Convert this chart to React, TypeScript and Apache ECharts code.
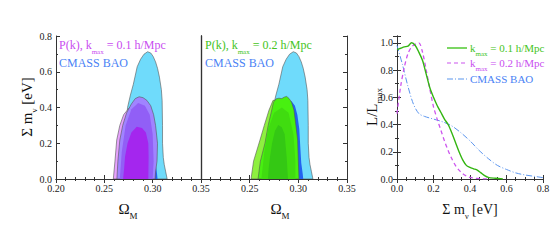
import React, { useEffect, useRef } from "react";
import * as echarts from "echarts";

// ---------- Data ----------
// Contours: [Omega_M, Sum m_nu]
const BAO_2SIGMA = [
  [0.271, 0], [0.271, 0.2], [0.274, 0.40], [0.277, 0.47], [0.280, 0.53], [0.2840, 0.628],
  [0.2875, 0.67], [0.291, 0.698], [0.2948, 0.712], [0.298, 0.705], [0.3005, 0.686], [0.303, 0.655],
  [0.305, 0.62], [0.307, 0.57], [0.309, 0.50], [0.3098, 0.44], [0.3102, 0.30], [0.3102, 0.2],
  [0.311, 0.12], [0.312, 0.08], [0.3135, 0.04], [0.315, 0],
];
const BAO_1SIGMA = [
  [0.276, 0], [0.276, 0.2], [0.280, 0.36], [0.285, 0.42], [0.289, 0.44], [0.293, 0.435],
  [0.2965, 0.41], [0.299, 0.36], [0.301, 0.28], [0.302, 0.18], [0.303, 0.09], [0.3045, 0.03], [0.305, 0],
];
const PK01_2SIGMA = [
  [0.2593, 0], [0.261, 0.1], [0.2628, 0.218], [0.266, 0.30], [0.270, 0.36], [0.276, 0.40],
  [0.284, 0.40], [0.290, 0.35], [0.295, 0.2], [0.297, 0],
];
const PK01_BAO_2SIGMA = [
  [0.263, 0], [0.264, 0.1], [0.266, 0.218], [0.269, 0.30], [0.273, 0.37], [0.278, 0.42],
  [0.282, 0.45], [0.286, 0.46], [0.290, 0.455], [0.294, 0.44], [0.298, 0.41], [0.301, 0.36],
  [0.303, 0.30], [0.305, 0.2], [0.3045, 0.1], [0.303, 0.04], [0.3025, 0],
];
const PK01_MID = [
  [0.266, 0], [0.268, 0.15], [0.272, 0.3], [0.278, 0.39], [0.285, 0.425], [0.292, 0.41],
  [0.297, 0.36], [0.300, 0.25], [0.301, 0.1], [0.300, 0],
];
const PK01_1SIGMA = [
  [0.2694, 0], [0.2705, 0.06], [0.2714, 0.125], [0.274, 0.2], [0.278, 0.26], [0.2835, 0.293],
  [0.289, 0.285], [0.293, 0.26], [0.2955, 0.2], [0.2958, 0.125], [0.2955, 0],
];
const PK02_2SIGMA = [
  [0.2514, 0], [0.254, 0.1], [0.2606, 0.218], [0.265, 0.30], [0.2699, 0.386], [0.274, 0.44],
  [0.280, 0.44], [0.290, 0.40], [0.295, 0.2], [0.297, 0],
];
const PK02_BAO_2SIGMA = [
  [0.2586, 0], [0.261, 0.1], [0.2657, 0.2], [0.269, 0.3], [0.272, 0.37], [0.2745, 0.43],
  [0.277, 0.448], [0.280, 0.452], [0.283, 0.450], [0.2855, 0.458], [0.288, 0.462], [0.2905, 0.45],
  [0.293, 0.43], [0.2955, 0.386], [0.2975, 0.3], [0.2993, 0.218], [0.300, 0.1], [0.3007, 0],
];
const PK02_MID = [
  [0.262, 0], [0.265, 0.15], [0.269, 0.28], [0.275, 0.37], [0.283, 0.40], [0.290, 0.37],
  [0.295, 0.25], [0.297, 0.1], [0.297, 0],
];
const PK02_1SIGMA = [
  [0.2688, 0], [0.2695, 0.06], [0.2709, 0.125], [0.273, 0.2], [0.276, 0.27], [0.2794, 0.302],
  [0.283, 0.29], [0.286, 0.25], [0.288, 0.125], [0.2894, 0],
];

// 1D likelihoods: [Sum m_nu, L/Lmax]
const L_K01 = [
  [0, 0.95], [0.02, 0.96], [0.04, 0.97], [0.06, 0.975], [0.08, 1.0], [0.1, 0.98], [0.12, 0.93],
  [0.14, 0.87], [0.16, 0.77], [0.18, 0.67], [0.2, 0.6], [0.22, 0.54], [0.24, 0.49], [0.26, 0.44],
  [0.28, 0.4], [0.3, 0.34], [0.32, 0.27], [0.34, 0.2], [0.36, 0.14], [0.38, 0.1], [0.4, 0.085],
  [0.42, 0.075], [0.44, 0.065], [0.46, 0.045], [0.48, 0.025], [0.5, 0.012], [0.54, 0.005], [0.58, 0],
];
const L_K02 = [
  [0, 0.48], [0.02, 0.68], [0.04, 0.82], [0.06, 0.92], [0.08, 0.97], [0.1, 0.99], [0.12, 1.0],
  [0.14, 0.93], [0.16, 0.8], [0.18, 0.66], [0.2, 0.53], [0.22, 0.44], [0.24, 0.36], [0.26, 0.28],
  [0.28, 0.21], [0.3, 0.15], [0.32, 0.1], [0.34, 0.065], [0.36, 0.04], [0.38, 0.022], [0.4, 0.012],
  [0.44, 0.004], [0.5, 0],
];
const L_BAO = [
  [0, 0.98], [0.03, 0.84], [0.06, 0.68], [0.09, 0.55], [0.12, 0.48], [0.15, 0.46], [0.2, 0.44],
  [0.25, 0.42], [0.3, 0.39], [0.35, 0.34], [0.4, 0.28], [0.45, 0.21], [0.5, 0.15], [0.55, 0.1],
  [0.6, 0.07], [0.65, 0.045], [0.7, 0.03], [0.75, 0.02], [0.8, 0.01],
];

const LEGEND_PANEL1 = ["P(k), k", "max", " = 0.1 h/Mpc", "CMASS BAO"];
const LEGEND_PANEL2 = ["P(k), k", "max", " = 0.2 h/Mpc", "CMASS BAO"];
const LEGEND_PANEL3 = [
  ["k", "max", " = 0.1 h/Mpc"],
  ["k", "max", " = 0.2 h/Mpc"],
  ["CMASS BAO", "", ""],
];

const SERIF = "Liberation Serif";
const AXIS_COLOR = "#333";

const C_CYAN = "#6fdbfb";
const C_BLUE = "#2262f0";
const C_PINK = "#e6a2fd";
const C_PURPLE = "#a084ff";
const C_PURPLE_MID = "#915ff6";
const C_PURPLE_IN = "#a426ee";
const C_LGREEN = "#8ef040";
const C_GREEN = "#48f010";
const C_GREEN_MID = "#40dc10";
const C_GREEN_IN = "#34c814";
const C_MAGENTA_TXT = "#c94df0";
const C_BLUE_TXT = "#4a82f5";
const C_GREEN_TXT = "#44c422";

function contour(pts: number[][], axisIdx: number, fill: string, outline: boolean): any {
  return {
    type: "custom",
    xAxisIndex: axisIdx,
    yAxisIndex: axisIdx,
    clip: true,
    data: pts,
    encode: { x: 0, y: 1 },
    renderItem: (params: any, api: any) => {
      if (params.dataIndex !== 0) return null;
      return {
        type: "polygon",
        shape: { points: pts.map((p) => api.coord(p)) },
        style: {
          fill,
          stroke: outline ? "#555" : null,
          lineWidth: outline ? 0.6 : 0,
        },
      };
    },
  };
}

function richText(main: string, sub: string, rest: string, color: string, size: number) {
  return {
    text: `{a|${main}}{s|${sub}}{a|${rest}}`,
    rich: {
      a: { fontSize: size, fontFamily: SERIF, fill: color, lineHeight: size + 8, verticalAlign: "middle" },
      s: { fontSize: Math.round(size * 0.6), fontFamily: SERIF, fill: color, lineHeight: 8, verticalAlign: "bottom" },
    },
  };
}

export default function App() {
  const ref = useRef<HTMLDivElement>(null);

  useEffect(() => {
    document.body.style.margin = "0";
    const chart = echarts.init(ref.current!, null, { renderer: "svg" });

    const grids = [
      { left: 56, top: 36, width: 145, height: 143 },
      { left: 201, top: 36, width: 146, height: 143 },
      { left: 397, top: 36, width: 146, height: 143 },
    ];

    const baseLabel = { fontFamily: SERIF, fontSize: 10, color: "#222", margin: 4 };
    const axisLine = { show: true, lineStyle: { color: AXIS_COLOR, width: 1 } };
    const tick = { show: true, inside: true, length: 4, lineStyle: { color: AXIS_COLOR } };
    const minor = (n: number) => ({ show: true, splitNumber: n, length: 2, lineStyle: { color: AXIS_COLOR } });

    const omegaAxis = (gi: number, hideMin: boolean) => ({
      type: "value",
      gridIndex: gi,
      min: 0.2,
      max: 0.35,
      interval: 0.05,
      position: "bottom",
      axisLine,
      axisTick: tick,
      minorTick: minor(5),
      splitLine: { show: false },
      axisLabel: {
        ...baseLabel,
        showMinLabel: !hideMin,
        showMaxLabel: true,
        formatter: (v: number) => v.toFixed(2),
      },
    });

    const topAxis = (gi: number, min: number, max: number, interval: number, ms: number) => ({
      type: "value",
      gridIndex: gi,
      min,
      max,
      interval,
      position: "top",
      axisLine,
      axisTick: tick,
      minorTick: minor(ms),
      splitLine: { show: false },
      axisLabel: { show: false },
    });

    const rightAxis = (gi: number, min: number, max: number, ticks: boolean) => ({
      type: "value",
      gridIndex: gi,
      min,
      max,
      interval: 0.2,
      position: "right",
      axisLine,
      axisTick: { ...tick, show: ticks },
      minorTick: { ...minor(2), show: ticks },
      splitLine: { show: false },
      axisLabel: { show: false },
    });

    const xAxis: any[] = [
      omegaAxis(0, false),
      omegaAxis(1, true),
      {
        type: "value",
        gridIndex: 2,
        min: 0,
        max: 0.8,
        interval: 0.2,
        position: "bottom",
        axisLine,
        axisTick: tick,
        minorTick: minor(4),
        splitLine: { show: false },
        axisLabel: { ...baseLabel, formatter: (v: number) => v.toFixed(1) },
      },
      topAxis(0, 0.2, 0.35, 0.05, 5),
      topAxis(1, 0.2, 0.35, 0.05, 5),
      topAxis(2, 0, 0.8, 0.2, 4),
    ];

    const yAxis: any[] = [
      {
        type: "value",
        gridIndex: 0,
        min: 0,
        max: 0.8,
        interval: 0.2,
        position: "left",
        axisLine,
        axisTick: tick,
        minorTick: minor(2),
        splitLine: { show: false },
        axisLabel: { ...baseLabel, formatter: (v: number) => v.toFixed(1) },
      },
      {
        type: "value",
        gridIndex: 1,
        min: 0,
        max: 0.8,
        interval: 0.2,
        position: "left",
        axisLine: { show: true, lineStyle: { color: "#111", width: 1.3 } },
        axisTick: { show: false },
        splitLine: { show: false },
        axisLabel: { show: false },
      },
      {
        type: "value",
        gridIndex: 2,
        min: 0,
        max: 1.05,
        interval: 0.2,
        position: "left",
        axisLine,
        axisTick: tick,
        minorTick: minor(2),
        splitLine: { show: false },
        axisLabel: {
          ...baseLabel,
          showMaxLabel: false,
          formatter: (v: number) => (v > 1.001 ? "" : v.toFixed(1)),
        },
      },
      rightAxis(0, 0, 0.8, false),
      rightAxis(1, 0, 0.8, true),
      rightAxis(2, 0, 1.05, true),
    ];

    const series: any[] = [
      // Panel 1
      contour(BAO_2SIGMA, 0, C_CYAN, true),
      contour(BAO_1SIGMA, 0, C_BLUE, false),
      contour(PK01_2SIGMA, 0, C_PINK, true),
      contour(PK01_BAO_2SIGMA, 0, C_PURPLE, true),
      contour(PK01_MID, 0, C_PURPLE_MID, false),
      contour(PK01_1SIGMA, 0, C_PURPLE_IN, false),
      // Panel 2
      contour(BAO_2SIGMA, 1, C_CYAN, true),
      contour(BAO_1SIGMA, 1, C_BLUE, false),
      contour(PK02_2SIGMA, 1, C_LGREEN, true),
      contour(PK02_BAO_2SIGMA, 1, C_GREEN, true),
      contour(PK02_MID, 1, C_GREEN_MID, false),
      contour(PK02_1SIGMA, 1, C_GREEN_IN, false),
      // Panel 3
      {
        type: "line",
        xAxisIndex: 2,
        yAxisIndex: 2,
        data: L_BAO,
        smooth: 0.3,
        showSymbol: false,
        lineStyle: { color: "#5b95ee", width: 1, type: [6, 2, 1, 2] },
      },
      {
        type: "line",
        xAxisIndex: 2,
        yAxisIndex: 2,
        data: L_K02,
        smooth: 0.3,
        showSymbol: false,
        lineStyle: { color: "#cc55ee", width: 1.3, type: [4, 3] },
      },
      {
        type: "line",
        xAxisIndex: 2,
        yAxisIndex: 2,
        data: L_K01,
        smooth: 0.3,
        showSymbol: false,
        lineStyle: { color: "#33b511", width: 1.4 },
      },
    ];

    const legendLineColors = [C_GREEN_TXT, "#cc55ee", "#5b95ee"];
    const legendTxtColors = [C_GREEN_TXT, C_MAGENTA_TXT, C_BLUE_TXT];
    const legendDash: any[] = [null, [4, 3], [6, 2, 1, 2]];
    const legendY = [48, 63, 79];

    const graphic: any[] = [
      // Panel 1 legend
      { type: "text", x: 59, y: 45, style: { ...richText(LEGEND_PANEL1[0], LEGEND_PANEL1[1], LEGEND_PANEL1[2], C_MAGENTA_TXT, 12), verticalAlign: "middle" } },
      { type: "text", x: 59, y: 63, style: { text: LEGEND_PANEL1[3], fill: C_BLUE_TXT, fontFamily: SERIF, fontSize: 12, verticalAlign: "middle" } },
      // Panel 2 legend
      { type: "text", x: 205, y: 45, style: { ...richText(LEGEND_PANEL2[0], LEGEND_PANEL2[1], LEGEND_PANEL2[2], C_GREEN_TXT, 12), verticalAlign: "middle" } },
      { type: "text", x: 205, y: 63, style: { text: LEGEND_PANEL2[3], fill: C_BLUE_TXT, fontFamily: SERIF, fontSize: 12, verticalAlign: "middle" } },
      // Axis titles
      {
        type: "group",
        x: 27,
        y: 107,
        rotation: Math.PI / 2,
        children: [
          { type: "text", x: 0, y: 0, style: { ...richText("Σ m", "ν", " [eV]", "#111", 15), align: "center", verticalAlign: "middle" } },
        ],
      },
      {
        type: "group",
        x: 372,
        y: 107,
        rotation: Math.PI / 2,
        children: [
          { type: "text", x: 0, y: 0, style: { ...richText("L/L", "max", "", "#111", 15), align: "center", verticalAlign: "middle" } },
        ],
      },
      { type: "text", x: 128, y: 209, style: { ...richText("Ω", "M", "", "#111", 15), align: "center", verticalAlign: "middle" } },
      { type: "text", x: 280, y: 209, style: { ...richText("Ω", "M", "", "#111", 15), align: "center", verticalAlign: "middle" } },
      { type: "text", x: 470, y: 209, style: { ...richText("Σ m", "ν", " [eV]", "#111", 14), align: "center", verticalAlign: "middle" } },
    ];

    LEGEND_PANEL3.forEach((row, i) => {
      graphic.push({
        type: "line",
        shape: { x1: 447, y1: legendY[i], x2: 467, y2: legendY[i] },
        style: { stroke: legendLineColors[i], lineWidth: i === 0 ? 1.4 : 1.2, lineDash: legendDash[i] },
      });
      graphic.push({
        type: "text",
        x: 470,
        y: legendY[i],
        style: { ...richText(row[0], row[1], row[2], legendTxtColors[i], 11), verticalAlign: "middle" },
      });
    });

    chart.setOption({
      animation: false,
      backgroundColor: "#fff",
      textStyle: { fontFamily: SERIF },
      grid: grids,
      xAxis,
      yAxis,
      series,
      graphic,
    });

    return () => chart.dispose();
  }, []);

  return (
    <div
      ref={ref}
      style={{ position: "fixed", left: 0, top: 0, width: 560, height: 240 }}
    />
  );
}
